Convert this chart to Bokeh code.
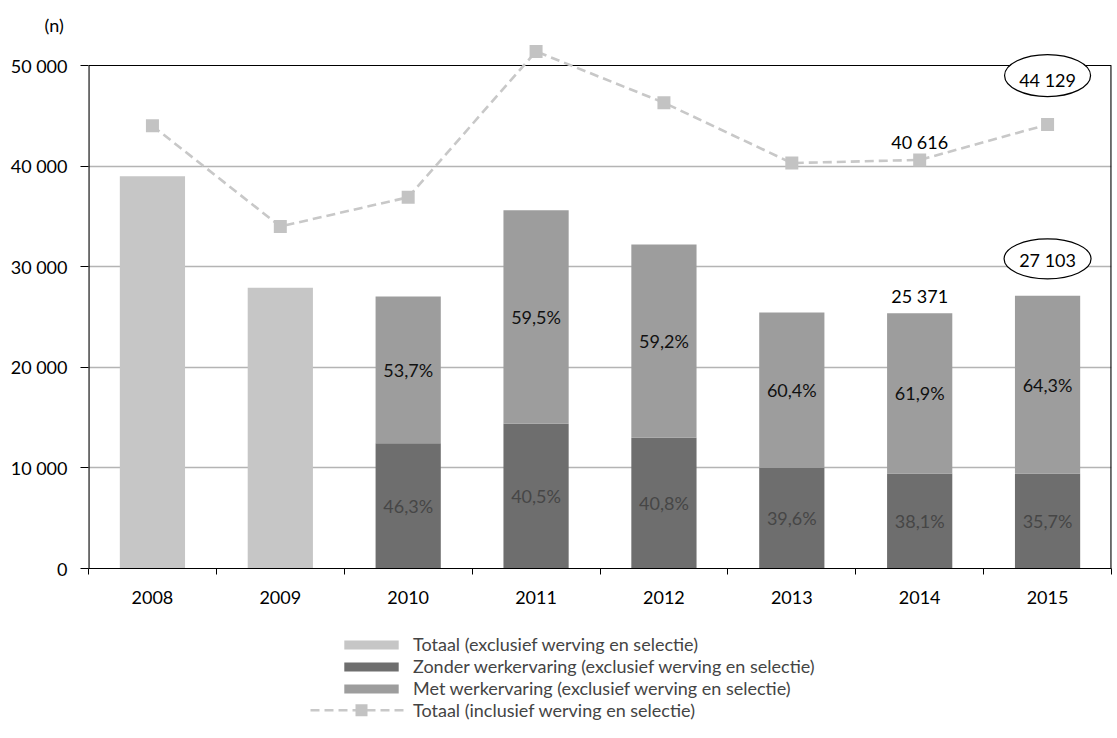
from bokeh.plotting import figure
from bokeh.layouts import column
from bokeh.models import Range1d, FixedTicker, Legend, LegendItem
from bokeh.core.properties import value
from bokeh.embed import file_html
from bokeh.resources import INLINE

# ---------------- data ----------------
years = ["2008", "2009", "2010", "2011", "2012", "2013", "2014", "2015"]
totaal_excl = [39000, 27900, 27050, 35600, 32200, 25450, 25371, 27103]
zonder_years = ["2010", "2011", "2012", "2013", "2014", "2015"]
zonder = [12450, 14400, 13000, 10000, 9450, 9450]
pct_zonder = [46.3, 40.5, 40.8, 39.6, 38.1, 35.7]
pct_met = [53.7, 59.5, 59.2, 60.4, 61.9, 64.3]
totaal_incl = [44000, 34000, 36900, 51400, 46300, 40300, 40616, 44129]
y_ticks = [0, 10000, 20000, 30000, 40000, 50000]
legend_labels = [
    "Totaal (exclusief werving en selectie)",
    "Zonder werkervaring (exclusief werving en selectie)",
    "Met werkervaring (exclusief werving en selectie)",
    "Totaal (inclusief werving en selectie)",
]
unit_label = "(n)"

# ---------------- style ----------------
FONT = "Lato"
NUM_SIZE = "18px"
C_LIGHT = "#c6c6c6"
C_DARK = "#6e6e6e"
C_MID = "#9d9d9d"
C_LINE = "#c8c8c8"
C_PT = "#c3c3c3"
C_GRID = "#b4b4b4"

W, H = 1112, 615
LEG_H = 115
B_LEFT, B_RIGHT, B_TOP, B_BOTTOM = 88, 1, 38, 47
FRAME_W = W - B_LEFT - B_RIGHT
FRAME_H = H - B_TOP - B_BOTTOM
Y_END = 52684
UPP = Y_END / FRAME_H  # data units per pixel


def fmt(v):
    return f"{v:,}".replace(",", " ")


def fmt_pct(v):
    return f"{v:.1f}".replace(".", ",") + "%"


n = len(years)
xs = list(range(n))
idx = {y: i for i, y in enumerate(years)}

p = figure(width=W, height=H, output_backend="svg", toolbar_location=None,
           x_range=Range1d(-0.5, n - 0.5), y_range=Range1d(0, Y_END),
           min_border_left=B_LEFT, min_border_right=B_RIGHT,
           min_border_top=B_TOP, min_border_bottom=B_BOTTOM,
           title=unit_label)
p.title.text_font = FONT
p.title.text_font_size = "18px"
p.title.text_font_style = "normal"
p.title.align = "left"
p.title.offset = -44
p.title.standoff = 6
p.title.text_color = "black"

p.outline_line_color = None
p.xgrid.visible = False
p.ygrid.ticker = FixedTicker(ticks=y_ticks[1:-1])
p.ygrid.grid_line_color = C_GRID
p.ygrid.grid_line_width = 1.5
p.background_fill_color = "white"
p.border_fill_color = "white"

# axes
p.xaxis.ticker = FixedTicker(ticks=xs, minor_ticks=[i - 0.5 for i in range(n + 1)])
p.xaxis.major_label_overrides = {i: y for i, y in enumerate(years)}
p.xaxis.major_tick_out = 0
p.xaxis.major_tick_in = 0
p.xaxis.minor_tick_out = 6
p.xaxis.minor_tick_in = 0
p.xaxis.minor_tick_line_color = "black"
p.xaxis.axis_line_color = "black"
p.xaxis.major_label_standoff = 16

p.yaxis.ticker = FixedTicker(ticks=y_ticks)
p.yaxis.major_label_overrides = {t: fmt(t) for t in y_ticks}
p.yaxis.axis_line_color = None
p.yaxis.major_tick_out = 8
p.yaxis.major_tick_in = 0
p.yaxis.major_tick_line_color = "black"
p.yaxis.minor_tick_line_color = None
p.yaxis.major_label_standoff = 13

for ax in (p.xaxis, p.yaxis):
    ax.major_label_text_font = FONT
    ax.major_label_text_font_size = NUM_SIZE
    ax.major_label_text_color = "black"

# frame lines (left axis line, top, right) limited to 50 000
p.segment(x0=[-0.5, -0.5, n - 0.5], y0=[0, y_ticks[-1], 0],
          x1=[-0.5, n - 0.5, n - 0.5], y1=[y_ticks[-1], y_ticks[-1], y_ticks[-1]],
          line_color="black", line_width=[2.2, 1.2, 2.2])

BW = 0.51
light_x = [idx[y] for y in years if y not in zonder_years]
light_top = [totaal_excl[i] for i in light_x]
p.vbar(x=light_x, top=light_top, bottom=0, width=BW, fill_color=C_LIGHT, line_color=None)

zx = [idx[y] for y in zonder_years]
ztot = [totaal_excl[i] for i in zx]
p.vbar(x=zx, top=zonder, bottom=0, width=BW, fill_color=C_DARK, line_color=None)
p.vbar(x=zx, top=ztot, bottom=zonder, width=BW, fill_color=C_MID, line_color=None)

# percentage labels
p.text(x=zx, y=[z / 2 for z in zonder], text=[fmt_pct(v) for v in pct_zonder],
       text_font=value(FONT), text_font_size=NUM_SIZE, text_color="#464646",
       text_align="center", text_baseline="middle")
p.text(x=zx, y=[(z + t) / 2 for z, t in zip(zonder, ztot)], text=[fmt_pct(v) for v in pct_met],
       text_font=value(FONT), text_font_size=NUM_SIZE, text_color="#111111",
       text_align="center", text_baseline="middle")

# total incl line
p.line(x=xs, y=totaal_incl, line_color=C_LINE, line_width=2.6, line_dash="9 5")
p.scatter(x=xs, y=totaal_incl, marker="square", size=13, fill_color=C_PT, line_color=None)

# value labels for 2014 (plain) and 2015 (ellipse)
i14, i15 = idx["2014"], idx["2015"]
p.text(x=[i14, i14], y=[totaal_excl[i14], totaal_incl[i14]],
       text=[fmt(totaal_excl[i14]), fmt(totaal_incl[i14])],
       y_offset=[-17, -18],
       text_font=value(FONT), text_font_size=NUM_SIZE, text_color="black",
       text_align="center", text_baseline="middle")

ell_y = [totaal_excl[i15] + 37 * UPP, totaal_incl[i15] + 49 * UPP]
p.ellipse(x=[i15, i15], y=ell_y, width=[87, 86], height=[40, 42],
          width_units="screen", height_units="screen",
          fill_color="white", line_color="black", line_width=1.2)
p.text(x=[i15, i15], y=ell_y, text=[fmt(totaal_excl[i15]), fmt(totaal_incl[i15])],
       y_offset=[1, 4],
       text_font=value(FONT), text_font_size=NUM_SIZE, text_color="black",
       text_align="center", text_baseline="middle")

# ---------------- legend figure (pixel coordinates) ----------------
q = figure(width=W, height=LEG_H, output_backend="svg", toolbar_location=None,
           x_range=Range1d(0, FRAME_W), y_range=Range1d(0, LEG_H),
           x_axis_location=None, y_axis_location=None,
           min_border_left=0, min_border_right=0, min_border_top=0, min_border_bottom=0)
q.outline_line_color = None
q.xgrid.visible = False
q.ygrid.visible = False
q.border_fill_color = "white"

LEG_X, LEG_Y, ROW_H = 249, 9, 22.6
# legend-only proxies, placed outside the visible range
off = [-100]
l1 = q.vbar(x=off, top=off, width=1, fill_color=C_LIGHT, line_color=None)
l2 = q.vbar(x=off, top=off, width=1, fill_color=C_DARK, line_color=None)
l3 = q.vbar(x=off, top=off, width=1, fill_color=C_MID, line_color=None)
l4 = q.line(x=off, y=off, line_alpha=0)

legend = Legend(items=[
    LegendItem(label=legend_labels[0], renderers=[l1]),
    LegendItem(label=legend_labels[1], renderers=[l2]),
    LegendItem(label=legend_labels[2], renderers=[l3]),
    LegendItem(label=legend_labels[3], renderers=[l4]),
], location=(LEG_X, LEG_Y), orientation="vertical",
    glyph_width=68, glyph_height=11, label_standoff=8,
    label_text_font=FONT, label_text_font_size="18px", label_height=20,
    spacing=0, padding=0, margin=0,
    border_line_color=None, background_fill_alpha=0)
q.add_layout(legend)

# wider dashed sample with a full-size marker for the line entry
row4_y = LEG_Y + ROW_H / 2
q.line(x=[LEG_X - 27, LEG_X + 66], y=[row4_y, row4_y], line_color=C_LINE,
       line_width=2.6, line_dash="9 5")
q.scatter(x=[LEG_X + 24], y=[row4_y], marker="square", size=12,
          fill_color=C_PT, line_color=None)

open("out.html", "w").write(file_html(column(p, q, spacing=0), INLINE))
